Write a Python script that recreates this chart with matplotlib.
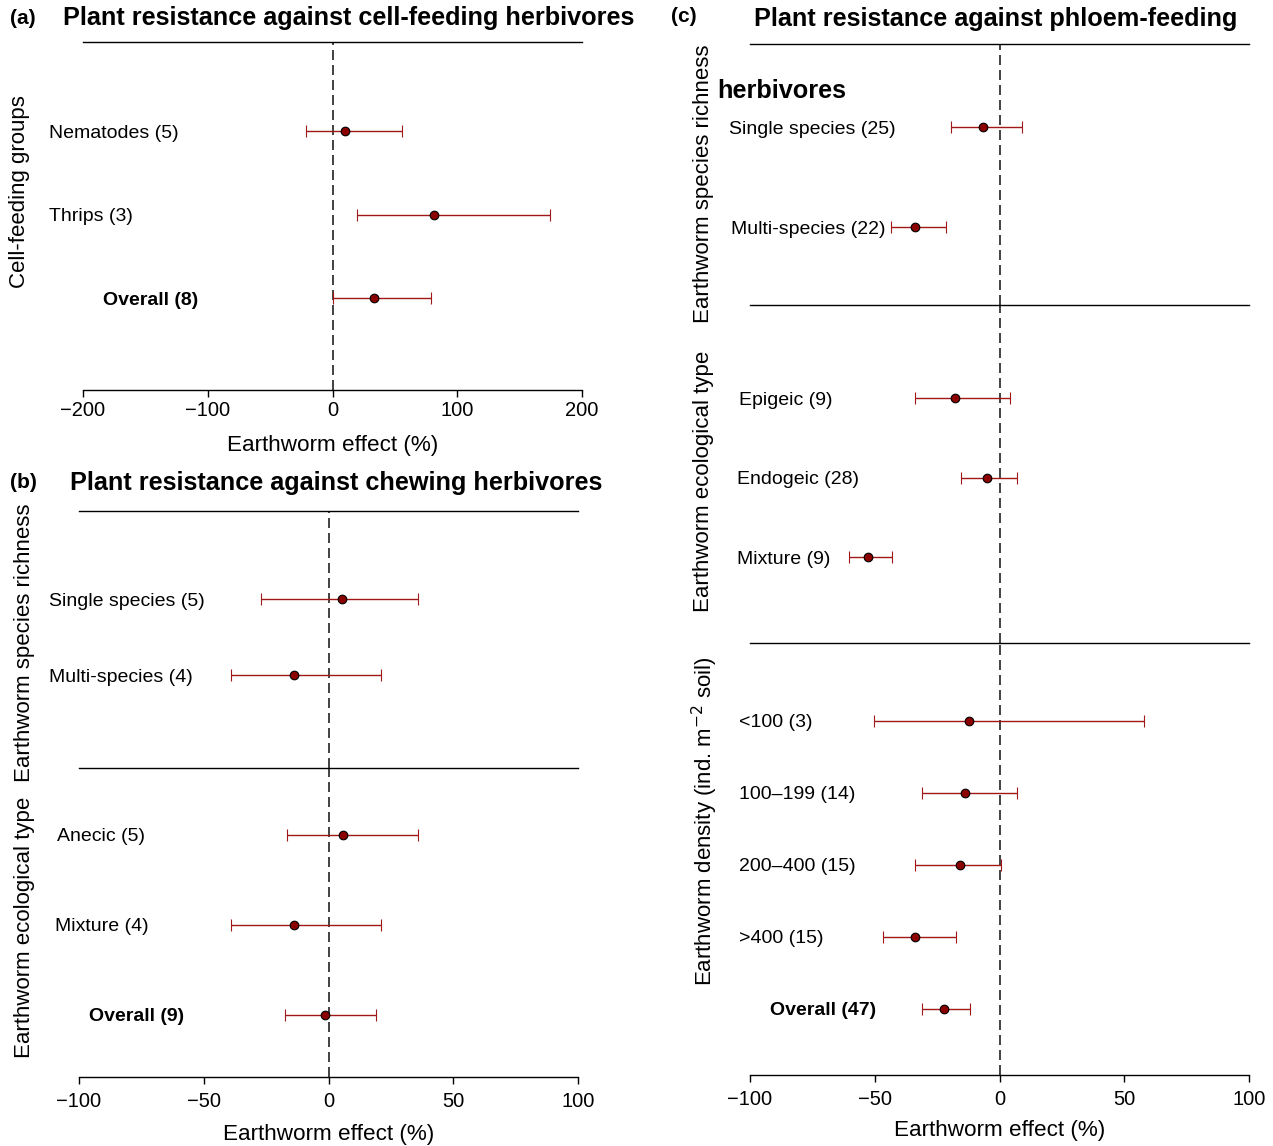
import numpy as np
import matplotlib
matplotlib.use("Agg")
import matplotlib.pyplot as plt
import matplotlib.transforms as mtransforms

plt.rcParams['font.family'] = ['Liberation Sans', 'DejaVu Sans']

W, H = 1273, 1146

# ---- data (effect %, lower CI, upper CI) ----
a_labels = ['Nematodes (5)', 'Thrips (3)', 'Overall (8)']
a_mean = [10, 81, 33]
a_lo = [-21, 20, 0.5]
a_hi = [56, 174, 79]

b1_labels = ['Single species (5)', 'Multi-species (4)']
b1_mean = [5.6, -14]
b1_lo = [-26.9, -38.9]
b1_hi = [36, 21]

b2_labels = ['Anecic (5)', 'Mixture (4)', 'Overall (9)']
b2_mean = [6, -14, -1.6]
b2_lo = [-16.8, -39, -17.6]
b2_hi = [36, 21, 19]

c1_labels = ['Single species (25)', 'Multi-species (22)']
c1_mean = [-6.8, -34]
c1_lo = [-19.6, -43.3]
c1_hi = [9.2, -21.6]

c2_labels = ['Epigeic (9)', 'Endogeic (28)', 'Mixture (9)']
c2_mean = [-18, -5.2, -52.9]
c2_lo = [-33.7, -15.6, -60.5]
c2_hi = [4.4, 7.2, -42.9]

c3_labels = ['<100 (3)', '100\u2013199 (14)', '200\u2013400 (15)', '>400 (15)', 'Overall (47)']
c3_mean = [-12.4, -14, -16, -34, -22.4]
c3_lo = [-50.5, -30.9, -33.7, -46.5, -30.9]
c3_hi = [58, 7.2, 0.8, -17.6, -12]

fig = plt.figure(figsize=(W / 100, H / 100), dpi=100)


def fpos(left, top, right, bottom):
    return [left / W, 1 - bottom / H, (right - left) / W, (bottom - top) / H]


def block(rect, labels, mean, lo, hi, above, below, label_x, xlim, ticks,
          bold_last=False, axis=False, tick_pad=4, xlab_pad=6):
    ax = fig.add_axes(fpos(*rect))
    n = len(labels)
    y = np.arange(n)
    mean = np.array(mean)
    err = [mean - np.array(lo), np.array(hi) - mean]
    ax.axvline(0, color='#222222', lw=1.2, ls=(0, (6, 3)), zorder=1)
    ax.errorbar(mean, y, xerr=err, fmt='o', color='#8b0000', ecolor='#a01818',
                elinewidth=1.0, capsize=4, capthick=1.0, markersize=6.2,
                markerfacecolor='#8b0000', markeredgecolor='black',
                markeredgewidth=0.8, zorder=3)
    ax.set_xlim(xlim)
    ax.set_ylim(n - 1 + below, -above)
    for s in ['left', 'right']:
        ax.spines[s].set_visible(False)
    ax.spines['top'].set_linewidth(1.0)
    ax.set_yticks([])
    tr = mtransforms.blended_transform_factory(fig.transFigure, ax.transData)
    tr = tr + mtransforms.ScaledTranslation(0, -2 / 100, fig.dpi_scale_trans)
    for i, lab in enumerate(labels):
        bold = bold_last and i == n - 1
        ax.text(label_x[i] / W, y[i], lab, transform=tr, ha='left', va='center',
                fontsize=14, fontweight='bold' if bold else 'normal')
    if axis:
        ax.spines['bottom'].set_linewidth(1.0)
        ax.set_xticks(ticks)
        ax.tick_params(axis='x', labelsize=14.5, length=5, width=1, pad=tick_pad)
        ax.set_xlabel('Earthworm effect (%)', fontsize=16.2, labelpad=xlab_pad)
    else:
        ax.spines['bottom'].set_visible(False)
        ax.set_xticks([])
    return ax


# panel (a)
block((83, 42, 582, 390), a_labels, a_mean, a_lo, a_hi, 1.07, 1.1,
      [49, 49, 103], (-200, 200), [-200, -100, 0, 100, 200], bold_last=True,
      axis=True, tick_pad=3, xlab_pad=11)

# panel (b)
tb = [-100, -50, 0, 50, 100]
block((79, 511, 578, 768), b1_labels, b1_mean, b1_lo, b1_hi, 1.16, 1.22,
      [49, 49], (-100, 100), tb)
block((79, 768, 578, 1077), b2_labels, b2_mean, b2_lo, b2_hi, 0.74, 0.69,
      [57, 55, 89], (-100, 100), tb, bold_last=True, axis=True,
      tick_pad=6, xlab_pad=9)

# panel (c)
block((750, 44, 1249, 305), c1_labels, c1_mean, c1_lo, c1_hi, 0.83, 0.78,
      [729, 731], (-100, 100), tb)
block((750, 305, 1249, 643), c2_labels, c2_mean, c2_lo, c2_hi, 1.17, 1.08,
      [739, 737, 737], (-100, 100), tb)
block((750, 643, 1249, 1075), c3_labels, c3_mean, c3_lo, c3_hi, 1.08, 0.92,
      [739, 739, 739, 739, 770], (-100, 100), tb, bold_last=True, axis=True,
      tick_pad=6, xlab_pad=8)


def ftext(x, y, s, **kw):
    fig.text(x / W, 1 - y / H, s, **kw)


# titles
ftext(10, 18, '(a)', fontsize=15, fontweight='bold', va='center')
ftext(63, 18, 'Plant resistance against cell-feeding herbivores', fontsize=18.2,
      fontweight='bold', va='center')
ftext(10, 483, '(b)', fontsize=15, fontweight='bold', va='center')
ftext(70, 483, 'Plant resistance against chewing herbivores', fontsize=18.2,
      fontweight='bold', va='center')
ftext(671, 17, '(c)', fontsize=15, fontweight='bold', va='center')
ftext(754, 19, 'Plant resistance against phloem-feeding', fontsize=18.2,
      fontweight='bold', va='center')
ftext(717, 91, 'herbivores', fontsize=18.2, fontweight='bold', va='center')

# group labels
ylab = dict(fontsize=16, rotation=90, ha='center', va='center')
ftext(20, 192, 'Cell-feeding groups', **ylab)
ftext(25, 643, 'Earthworm species richness', **ylab)
ftext(25, 927, 'Earthworm ecological type', **ylab)
ftext(703, 184, 'Earthworm species richness', **ylab)
ftext(703, 481, 'Earthworm ecological type', **ylab)
ftext(705, 821, r'Earthworm density (ind. m$^{-2}$ soil)', **ylab)

fig.savefig('out.png', dpi=100)
